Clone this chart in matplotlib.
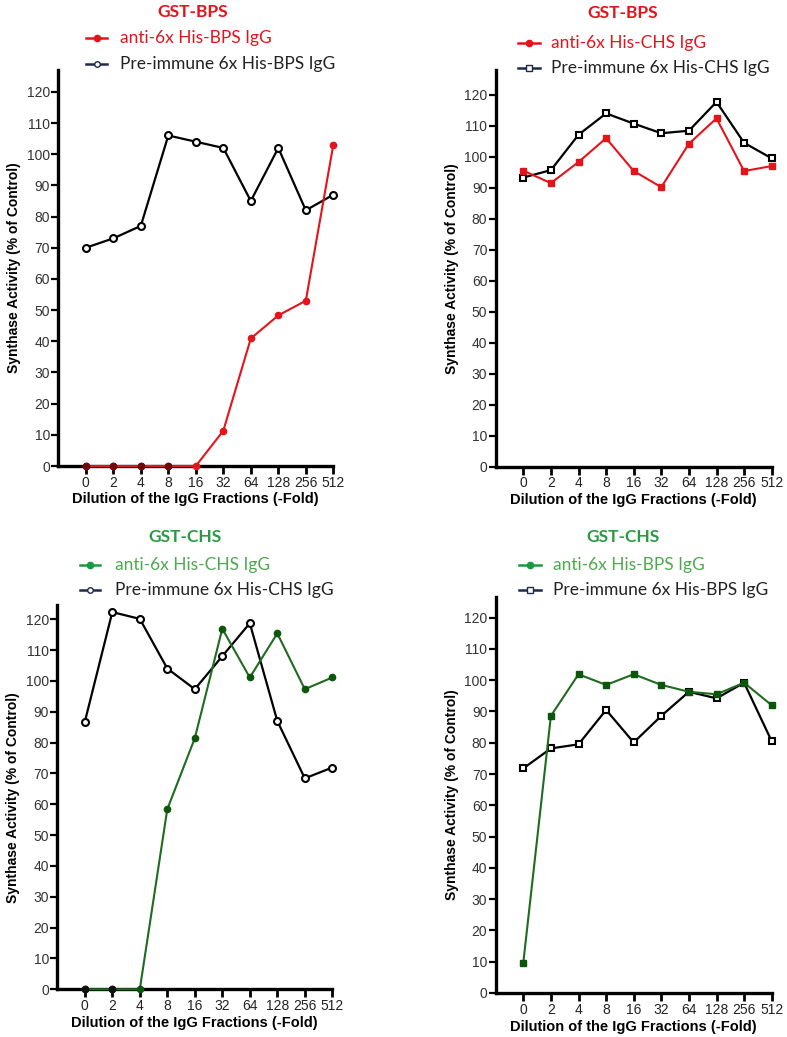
import matplotlib
matplotlib.use('Agg')
import matplotlib.pyplot as plt
from matplotlib.lines import Line2D

dilutions = ['0', '2', '4', '8', '16', '32', '64', '128', '256', '512']

bps_anti_bps = [0, 0, 0, 0, 0, 11.3, 40.9, 48.3, 53, 103]
bps_pre_bps = [70, 73, 77, 106, 104, 102, 85, 102, 82, 87]
bps_anti_chs = [95.5, 91.5, 98.3, 106, 95.4, 90.2, 104.2, 112.4, 95.4, 97]
bps_pre_chs = [93.3, 95.7, 107.1, 114, 110.7, 107.6, 108.4, 117.7, 104.5, 99.5]
chs_anti_chs = [0, 0, 0, 58.4, 81.4, 116.9, 101.1, 115.4, 97.3, 101.1]
chs_pre_chs = [86.7, 122.3, 120.1, 104, 97.3, 108, 118.7, 87, 68.4, 71.9]
chs_anti_bps = [9.7, 88.6, 101.9, 98.5, 101.9, 98.5, 96.3, 95.5, 99.2, 92]
chs_pre_bps = [71.8, 78.2, 79.5, 90.5, 80.1, 88.6, 96.3, 94.2, 99.2, 80.5]

W, H = 787, 1037
fig = plt.figure(figsize=(W / 100, H / 100), dpi=100)

RED = '#e3141b'
GREEN_LINE = '#1f6b1f'
GREEN_MK = '#0c560c'
GREEN_TITLE = '#2a9a45'
GREEN_TEXT = '#4ea84e'
LEG_NAVY = '#1f2a4a'

TFONT = ['Lato', 'DejaVu Sans']
AFONT = ['Liberation Sans', 'DejaVu Sans']


def px_axes(left, right, y0, ytop):
    return fig.add_axes([left / W, 1 - y0 / H, (right - left) / W, (y0 - ytop) / H])


panels = [
    dict(box=(58.3, 333.3, 466, 70, 127), a=bps_anti_bps, p=bps_pre_bps,
         acol=RED, amk=RED, pm='o', am='o', zc='#6a0a0a'),
    dict(box=(495.7, 771.7, 466.7, 70, 128), a=bps_anti_chs, p=bps_pre_chs,
         acol=RED, amk=RED, pm='s', am='s', zc=None),
    dict(box=(57.3, 332.3, 989.3, 605, 124.6), a=chs_anti_chs, p=chs_pre_chs,
         acol=GREEN_LINE, amk=GREEN_MK, pm='o', am='o', zc='#111111'),
    dict(box=(495.7, 771.7, 993, 596.7, 126.7), a=chs_anti_bps, p=chs_pre_bps,
         acol=GREEN_LINE, amk=GREEN_MK, pm='s', am='s', zc=None),
]

xpos = list(range(1, len(dilutions) + 1))

for pnl in panels:
    l, r, y0, yt, ymax = pnl['box']
    ax = px_axes(l, r, y0, yt)
    ax.plot(xpos, pnl['p'], color='black', lw=1.6, marker=pnl['pm'], ms=5,
            mfc='white', mec='black', mew=1.5, clip_on=False, zorder=3)
    ax.plot(xpos, pnl['a'], color=pnl['acol'], lw=1.5, marker=pnl['am'], ms=4.5,
            mfc=pnl['amk'], mec=pnl['amk'], clip_on=False, zorder=4)
    if pnl['zc'] is not None:
        zx = [x for x, v in zip(xpos, pnl['a']) if v == 0]
        zy = [v for v in pnl['a'] if v == 0]
        ax.plot(zx[:-1], zy[:-1], ls='none', marker='o', ms=4.5, mfc=pnl['zc'],
                mec=pnl['zc'], clip_on=False, zorder=5)
    ax.set_xlim(0, 10)
    ax.set_ylim(0, ymax)
    ax.set_xticks(xpos)
    ax.set_xticklabels(dilutions, fontsize=10, family=AFONT, color='#222222')
    ax.set_yticks(range(0, 121, 10))
    ax.set_yticklabels([str(v) for v in range(0, 121, 10)], fontsize=10, family=AFONT, color='#333333')
    for s in ['top', 'right']:
        ax.spines[s].set_visible(False)
    for s in ['left', 'bottom']:
        ax.spines[s].set_linewidth(2.4)
    ax.tick_params(axis='x', direction='out', length=6, width=2, pad=1)
    ax.tick_params(axis='y', direction='out', length=5, width=1.6, pad=1)
    ax.set_xlabel('Dilution of the IgG Fractions (-Fold)', fontsize=10.5, fontweight='bold',
                  family=AFONT, labelpad=2)
    ax.set_ylabel('Synthase Activity (% of Control)', fontsize=10, fontweight='bold',
                  family=AFONT, labelpad=4)

# titles and legends (pixel coordinates)
titles = [
    ('GST-BPS', 193, 12, RED),
    ('GST-BPS', 623, 13, RED),
    ('GST-CHS', 185, 537, GREEN_TITLE),
    ('GST-CHS', 623, 537, GREEN_TITLE),
]
for txt, x, y, c in titles:
    fig.text(x / W, 1 - y / H, txt, ha='center', va='center', fontsize=12.5,
             fontweight='bold', color=c, family=TFONT)

legends = [
    (86, 107, 120, 38, 64, 'anti-6x His-BPS IgG', 'Pre-immune 6x His-BPS IgG', RED, RED, 'o'),
    (518, 540, 551, 43, 68, 'anti-6x His-CHS IgG', 'Pre-immune 6x His-CHS IgG', RED, RED, 's'),
    (80, 100, 115, 565, 590, 'anti-6x His-CHS IgG', 'Pre-immune 6x His-CHS IgG', '#1a9a40', GREEN_TEXT, 'o'),
    (519, 541, 553, 565, 590, 'anti-6x His-BPS IgG', 'Pre-immune 6x His-BPS IgG', '#1a9a40', GREEN_TEXT, 's'),
]
for x0, x1, tx, y1, y2, l1, l2, c1, tc1, m2 in legends:
    fig.add_artist(Line2D([x0 / W, x1 / W], [1 - y1 / H, 1 - y1 / H], color=c1, lw=1.8,
                          transform=fig.transFigure))
    fig.add_artist(Line2D([(x0 + x1) / 2 / W], [1 - y1 / H], color=c1, marker='o', ms=4.5,
                          transform=fig.transFigure))
    fig.add_artist(Line2D([x0 / W, x1 / W], [1 - y2 / H, 1 - y2 / H], color=LEG_NAVY, lw=1.8,
                          transform=fig.transFigure))
    fig.add_artist(Line2D([(x0 + x1) / 2 / W], [1 - y2 / H], color=LEG_NAVY, marker=m2, ms=4,
                          mfc='white', mec=LEG_NAVY, mew=1, transform=fig.transFigure))
    fig.text(tx / W, 1 - y1 / H, l1, ha='left', va='center', fontsize=12.5, color=tc1, family=TFONT)
    fig.text(tx / W, 1 - y2 / H, l2, ha='left', va='center', fontsize=12.5, color='#222222', family=TFONT)

fig.savefig('out.png', dpi=100)
